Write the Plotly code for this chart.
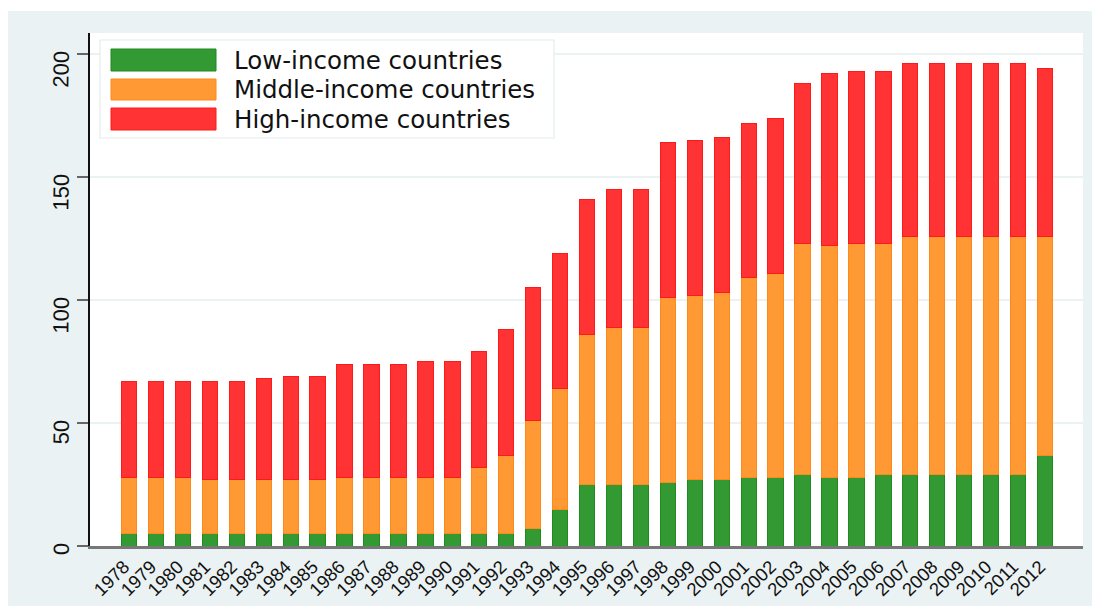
import plotly.graph_objects as go

years = [str(y) for y in range(1978, 2013)]

low_income = [5, 5, 5, 5, 5, 5, 5, 5, 5, 5, 5, 5, 5, 5, 5,
              7, 15, 25, 25, 25, 26, 27, 27, 28, 28, 29, 28, 28, 29,
              29, 29, 29, 29, 29, 37]
middle_income = [23, 23, 23, 22, 22, 22, 22, 22, 23, 23, 23, 23, 23, 27, 32,
                 44, 49, 61, 64, 64, 75, 75, 76, 81, 83, 94, 94, 95, 94,
                 97, 97, 97, 97, 97, 89]
high_income = [39, 39, 39, 40, 40, 41, 42, 42, 46, 46, 46, 47, 47, 47, 51,
               54, 55, 55, 56, 56, 63, 63, 63, 63, 63, 65, 70, 70, 70,
               70, 70, 70, 70, 70, 68]

series_names = ["Low-income countries", "Middle-income countries", "High-income countries"]
fills = ["#339933", "#ff9933", "#ff3333"]
lines = ["#1f8a1f", "#ff8a1a", "#ff1a1a"]

W, H = 1100, 606
L, R, T, B = 82, 1075, 25, 538
PW, PH = R - L, B - T

def px(x):
    return (x - L) / PW

def py(y):
    return (B - y) / PH

fig = go.Figure()
for name, vals, fc, lc in zip(series_names, [low_income, middle_income, high_income], fills, lines):
    fig.add_trace(go.Bar(x=years, y=vals, name=name,
                         marker=dict(color=fc, line=dict(color=lc, width=1))))

shapes = []
# thin white strip at the top
shapes.append(dict(type="rect", xref="paper", yref="paper",
                   x0=px(-20), x1=px(W + 20), y0=py(3), y1=py(-20),
                   fillcolor="white", line=dict(width=0), layer="above"))
# legend box
shapes.append(dict(type="rect", xref="paper", yref="paper",
                   x0=px(92), x1=px(546), y0=py(130), y1=py(32),
                   fillcolor="white", line=dict(color="#e3ebed", width=1.2), layer="above"))
sw = [(41, 63), (71, 92), (100, 122)]
annotations = []
for (y0, y1), fc, lc, name in zip(sw, fills, lines, series_names):
    shapes.append(dict(type="rect", xref="paper", yref="paper",
                       x0=px(103), x1=px(208), y0=py(y1), y1=py(y0),
                       fillcolor=fc, line=dict(color=lc, width=1), layer="above"))
    annotations.append(dict(xref="paper", yref="paper", x=px(224), y=py((y0 + y1) / 2),
                            text=name, showarrow=False, xanchor="left", yanchor="middle",
                            font=dict(family="DejaVu Sans", size=24.5, color="#111111")))

fig.update_layout(
    width=W, height=H,
    barmode="stack", bargap=0.43,
    showlegend=False,
    paper_bgcolor="#eaf2f3",
    plot_bgcolor="white",
    margin=dict(l=L, r=W - R, t=T, b=H - B, pad=0, autoexpand=False),
    shapes=shapes,
    annotations=annotations,
    xaxis=dict(type="category", range=[-1.45, 35.41], showgrid=False, zeroline=False,
               showline=True, linecolor="#777777", linewidth=2.5,
               ticks="", tickangle=-45, automargin=False, ticklabelshift=-5,
               tickfont=dict(family="Liberation Sans", size=18.5, color="#111111")),
    yaxis=dict(range=[0, 208.6], tickvals=[0, 50, 100, 150, 200],
               showgrid=True, gridcolor="#eaf2f3", gridwidth=1.5, zeroline=False,
               showline=True, linecolor="#111111", linewidth=1.5,
               ticks="outside", ticklen=11, tickwidth=1.5, tickcolor="#666666",
               tickangle=-89, automargin=False, ticklabelstandoff=15,
               tickfont=dict(family="Liberation Sans", size=22, color="#111111")),
)

fig.write_html("out.html")
